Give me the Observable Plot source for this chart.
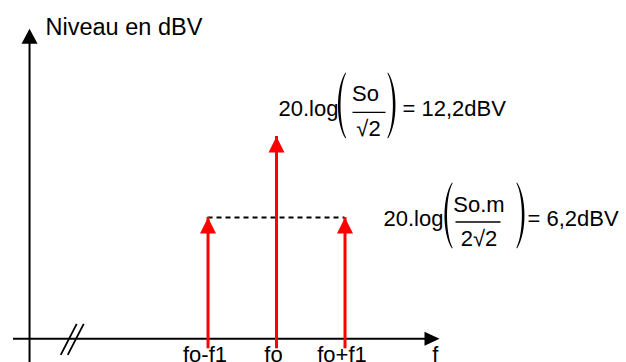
<!DOCTYPE html>
<html><head><meta charset="utf-8">
<script src="https://cdn.jsdelivr.net/npm/d3@7"></script>
<script src="https://cdn.jsdelivr.net/npm/@observablehq/plot@0.6"></script>
<style>html,body{margin:0;padding:0;background:#fff;} #chart svg{display:block;}</style>
</head><body><div id="chart"></div>
<script>
// ---- data ----
const freqLabels = ["fo-f1", "fo", "fo+f1"];
const freqs = [-1, 0, 1];
const levels = [6.2, 12.2, 6.2];
const yTitle = "Niveau en dBV";
const xTitle = "f";
const carrierFormula = {lead: "20.log", num: "So", den: "√2", rhs: "= 12,2dBV"};
const sideFormula = {lead: "20.log", num: "So.m", den: "2√2", rhs: "= 6,2dBV"};

// ---- axes geometry (data units) ----
const xDomain = [-4.03, 5.11];
const yDomain = [-4.54, 22.27];
const yAxisAt = -3.606;
const xAxisLevel = -2.785;
const xAxisFrom = -3.84, xAxisTo = 2.38;
const yAxisTop = 20.18;
const breakAt = -2.99;
const fLabelAt = 2.32;

const spectrum = freqs.map((f, i) => ({f, level: levels[i], label: freqLabels[i]}));

// ---- custom shapes ----
const tri = (w, h) => ({draw(c) { c.moveTo(0, 0); c.lineTo(-w / 2, h); c.lineTo(w / 2, h); c.closePath(); }});
const paren = (s) => ({draw(c) {
  c.moveTo(4 * s, -33); c.bezierCurveTo(-6 * s, -18, -6 * s, 18, 4 * s, 33);
  c.lineTo(4.6 * s, 32.4); c.bezierCurveTo(-2.8 * s, 18, -2.8 * s, -18, 4.6 * s, -32.4); c.closePath();
}});
const hline = (w) => ({draw(c) { c.moveTo(-w / 2, 0); c.lineTo(w / 2, 0); }});
const slashes = {draw(c) { c.moveTo(-11, 16); c.lineTo(5, -15); c.moveTo(-4, 16); c.lineTo(12, -15); }};

const FS = 22;
function formulaMarks(fm, x, y, L) {
  const d = [{x, y}];
  const t = (txt, [dx, dy], anchor) => Plot.text(d, {x: "x", y: "y", text: () => txt, dx, dy, textAnchor: anchor, lineAnchor: "bottom", fontSize: FS, fill: "black"});
  return [
    t(fm.lead, L.lead, "start"),
    t(fm.num, L.num, "middle"),
    t(fm.den, L.den, "middle"),
    t(fm.rhs, L.rhs, "start"),
    Plot.dot(d, {x: "x", y: "y", symbol: paren(1), fill: "black", stroke: "none", dx: L.lp[0], dy: L.lp[1]}),
    Plot.dot(d, {x: "x", y: "y", symbol: paren(-1), fill: "black", stroke: "none", dx: L.rp[0], dy: L.rp[1]}),
    Plot.dot(d, {x: "x", y: "y", symbol: hline(L.bar[2]), fill: "none", stroke: "black", strokeWidth: 1.3, dx: L.bar[0], dy: L.bar[1]})
  ];
}

const chart = Plot.plot({
  width: 626, height: 362, margin: 0,
  x: {domain: xDomain, axis: null},
  y: {domain: yDomain, axis: null},
  style: {fontFamily: "'Liberation Sans', Arial, sans-serif", fontSize: "22px", background: "white", overflow: "visible"},
  marks: [
    // axes
    Plot.ruleX([yAxisAt], {y1: yAxisTop, y2: yDomain[0], insetTop: 10, stroke: "black", strokeWidth: 2}),
    Plot.ruleY([xAxisLevel], {x1: xAxisFrom, x2: xAxisTo, insetRight: 10, stroke: "black", strokeWidth: 2}),
    Plot.dot([{x: yAxisAt, y: yAxisTop}], {x: "x", y: "y", symbol: tri(16, 15), fill: "black", stroke: "none"}),
    Plot.dot([{x: xAxisTo, y: xAxisLevel}], {x: "x", y: "y", symbol: tri(14, 15), rotate: 90, fill: "black", stroke: "none"}),
    Plot.dot([{x: breakAt, y: xAxisLevel}], {x: "x", y: "y", symbol: slashes, fill: "none", stroke: "black", strokeWidth: 1.8}),
    Plot.text([yTitle], {x: yAxisAt, y: yAxisTop, text: d => d, dx: 16, dy: 6, textAnchor: "start", lineAnchor: "bottom", fontSize: 23.5, fill: "black"}),
    Plot.text([xTitle], {x: fLabelAt, y: xAxisLevel, text: d => d, dy: 23, lineAnchor: "bottom", fontSize: FS, fill: "black"}),
    // sidebands dashed level
    Plot.ruleY([levels[0]], {x1: freqs[0], x2: freqs[2], stroke: "black", strokeWidth: 2, strokeDasharray: "5,4"}),
    // spectral lines
    Plot.ruleX(spectrum, {x: "f", y1: xAxisLevel, y2: "level", insetTop: 10, stroke: "#ff0000", strokeWidth: 3}),
    Plot.dot(spectrum, {x: "f", y: "level", symbol: tri(16, 16), fill: "#ff0000", stroke: "none"}),
    Plot.text(spectrum, {x: "f", y: xAxisLevel, text: "label", dx: -3, dy: 23, lineAnchor: "bottom", fontSize: FS, fill: "black"}),
    // formulas
    ...formulaMarks(carrierFormula, freqs[1], levels[1], {lead: [2, -20], num: [89, -35], den: [92, 0], rhs: [126, -20], lp: [65, -31], rp: [115.5, -31], bar: [92.5, -24, 33]}),
    ...formulaMarks(sideFormula, freqs[2], levels[2], {lead: [38.5, 9], num: [134, -5], den: [134, 29], rhs: [182.5, 9], lp: [103, -2], rp: [176, -2], bar: [133, 4.5, 45]})
  ]
});
document.getElementById("chart").append(chart);
</script>
</body></html>
